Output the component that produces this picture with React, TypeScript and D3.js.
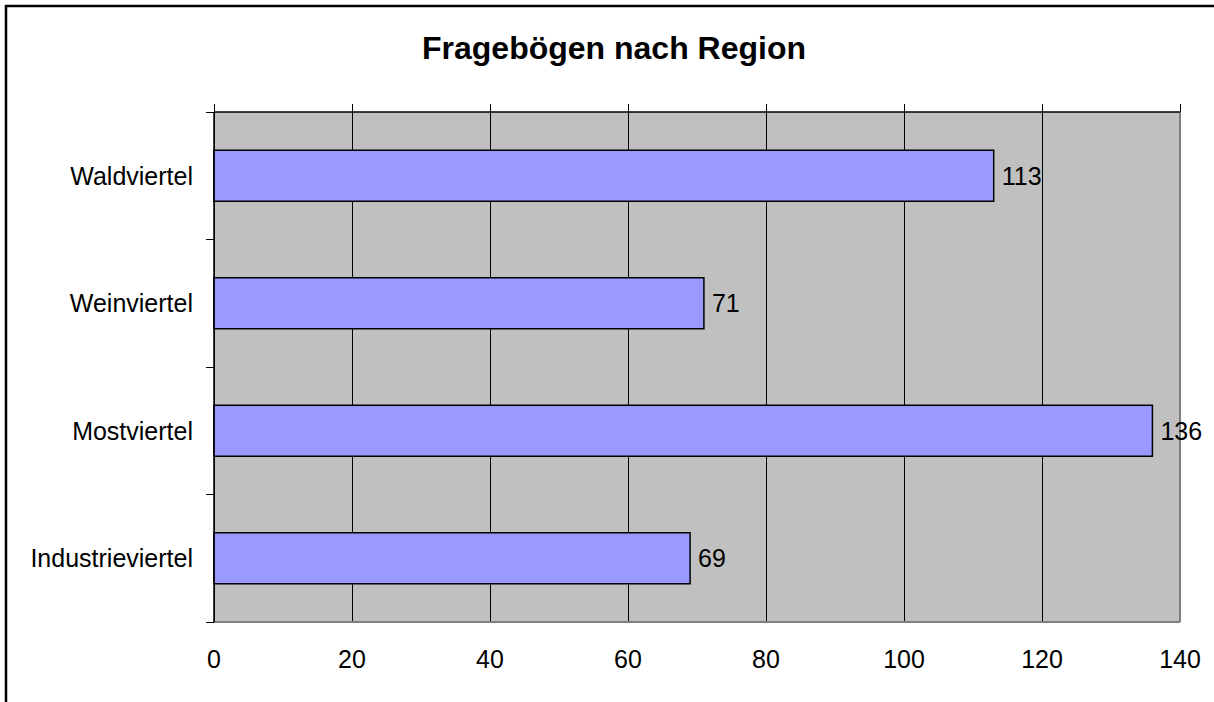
import React from "react";
import * as d3 from "d3";

const title = "Fragebögen nach Region";
const categories = ["Waldviertel", "Weinviertel", "Mostviertel", "Industrieviertel"];
const values = [113, 71, 136, 69];
const xTicks = [0, 20, 40, 60, 80, 100, 120, 140];

export default function App() {
  const W = 1214;
  const H = 702;
  const left = 214;
  const right = 1180;
  const top = 112;
  const bottom = 622;

  const x = d3.scaleLinear().domain([0, 140]).range([left, right]);
  const y = d3
    .scaleBand<string>()
    .domain(categories)
    .range([top, bottom])
    .paddingInner(0.6)
    .paddingOuter(0.3);
  const step = y.step();
  const catTicks = d3.range(categories.length + 1).map((i) => top + i * step);
  const font = "Liberation Sans, Arial, sans-serif";

  return (
    <svg
      width={W}
      height={H}
      style={{ position: "absolute", left: 0, top: 0, display: "block", background: "#fff" }}
    >
      <rect x={6} y={6} width={W + 20} height={H + 20} fill="#fff" stroke="#000" strokeWidth={2.5} />
      <text
        x={614}
        y={59}
        textAnchor="middle"
        fontFamily={font}
        fontWeight="bold"
        fontSize={32}
        fill="#000"
      >
        {title}
      </text>
      {/* plot area */}
      <rect x={left} y={top} width={right - left} height={bottom - top} fill="#C0C0C0" />
      {/* gridlines */}
      {xTicks.map((t) => (
        <line
          key={"g" + t}
          x1={x(t)}
          x2={x(t)}
          y1={top}
          y2={bottom}
          stroke="#000"
          strokeWidth={1}
          shapeRendering="crispEdges"
        />
      ))}
      {/* plot border right/bottom */}
      <line x1={right} x2={right} y1={top} y2={bottom} stroke="#808080" strokeWidth={2} />
      <line x1={left} x2={right} y1={bottom} y2={bottom} stroke="#808080" strokeWidth={2} />
      {/* bars */}
      {categories.map((c, i) => (
        <g key={c}>
          <rect
            x={x(0)}
            y={y(c)}
            width={x(values[i]) - x(0)}
            height={y.bandwidth()}
            fill="#9999FF"
            stroke="#000"
            strokeWidth={1.5}
          />
          <text
            x={x(values[i]) + 8}
            y={(y(c) as number) + y.bandwidth() / 2 + 9}
            fontFamily={font}
            fontSize={25}
            fill="#000"
          >
            {values[i]}
          </text>
          <text
            x={193}
            y={(y(c) as number) + y.bandwidth() / 2 + 9}
            textAnchor="end"
            fontFamily={font}
            fontSize={25}
            fill="#000"
          >
            {c}
          </text>
        </g>
      ))}
      {/* value axis at top */}
      <line x1={left} x2={right} y1={top} y2={top} stroke="#000" strokeWidth={1.5} />
      {xTicks.map((t) => (
        <line
          key={"t" + t}
          x1={x(t)}
          x2={x(t)}
          y1={top - 8}
          y2={top}
          stroke="#000"
          strokeWidth={1}
          shapeRendering="crispEdges"
        />
      ))}
      {xTicks.map((t) => (
        <text
          key={"l" + t}
          x={x(t)}
          y={668}
          textAnchor="middle"
          fontFamily={font}
          fontSize={25}
          fill="#000"
        >
          {t}
        </text>
      ))}
      {/* category axis */}
      <line x1={left} x2={left} y1={top} y2={bottom} stroke="#000" strokeWidth={1.5} />
      {catTicks.map((t, i) => (
        <line
          key={"c" + i}
          x1={left - 8}
          x2={left}
          y1={t}
          y2={t}
          stroke="#000"
          strokeWidth={1}
          shapeRendering="crispEdges"
        />
      ))}
    </svg>
  );
}
